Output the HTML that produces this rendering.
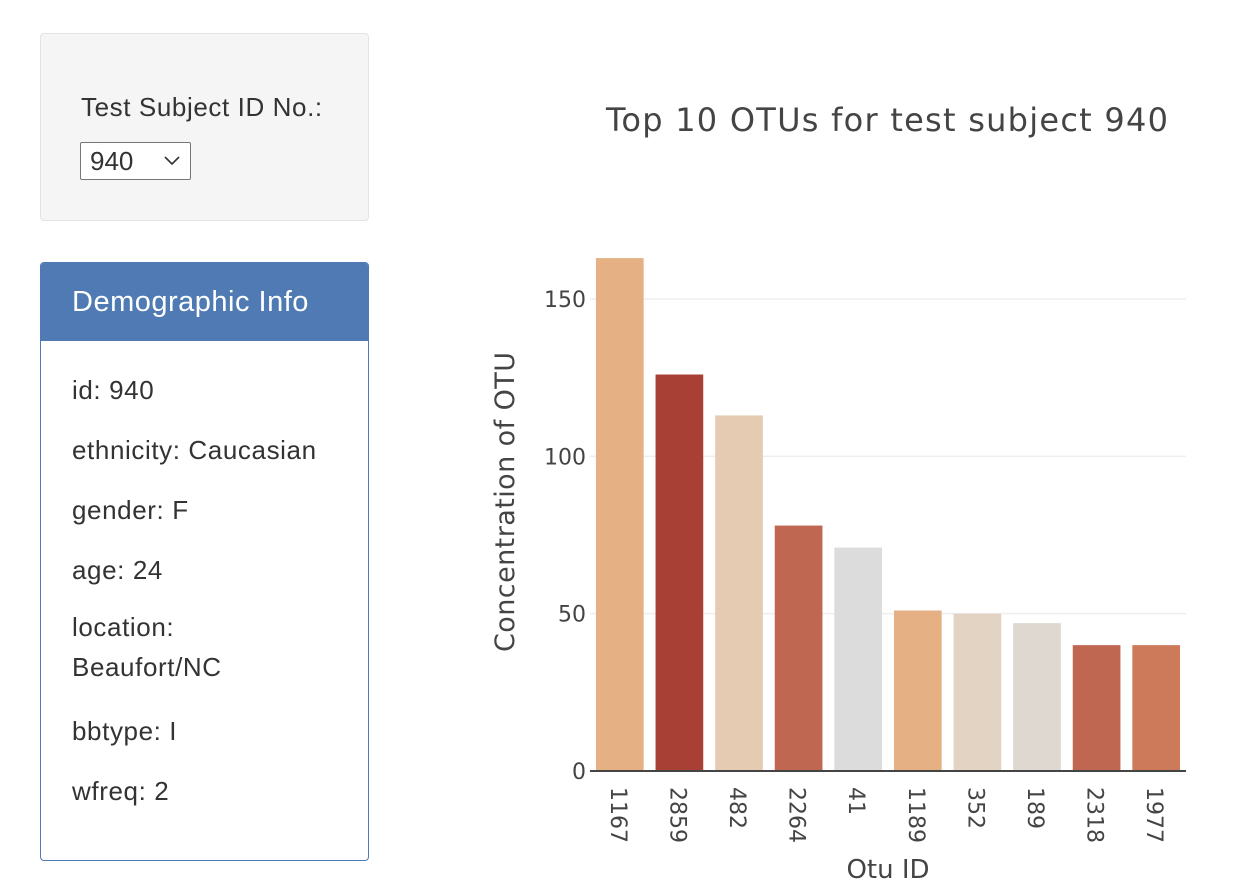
<!DOCTYPE html>
<html><head><meta charset="utf-8"><style>
body{margin:0;width:1252px;height:895px;background:#fff;font-family:"Liberation Sans",Helvetica,Arial,sans-serif;color:#333;position:relative;overflow:hidden}
.well{position:absolute;left:40px;top:33px;width:327px;height:186px;background:#f5f5f5;border:1px solid #e3e3e3;border-radius:4px}
.well .lbl{position:absolute;left:40px;top:58px;font-size:26px;letter-spacing:0.6px;color:#333}
.sel{position:absolute;left:39px;top:108px;width:111px;height:38px;border:1px solid #767676;background:#fff;border-radius:2px;font-size:26px;box-sizing:border-box;padding-left:9px;line-height:36px}
.panel{position:absolute;left:40px;top:262px;width:327px;height:597px;border:1px solid #4f7ab3;border-radius:4px;overflow:hidden}
.ph{height:78px;background:#4f7ab3;color:#fff;font-size:29px;letter-spacing:0.5px;line-height:78px;padding-left:31px}
.pb p{margin:0;position:absolute;left:31px;font-size:26px;letter-spacing:0.6px;color:#333}
</style></head><body>
<div class="well">
<div class="lbl">Test Subject ID No.:</div>
<div class="sel">940<svg style="position:absolute;right:10px;top:13px" width="16" height="10"><polyline points="1,1 8,8 15,1" fill="none" stroke="#333" stroke-width="1.6"/></svg></div>
</div>
<div class="panel">
<div class="ph">Demographic Info</div>
<div class="pb">
<p style="top:112px">id: 940</p>
<p style="top:172px">ethnicity: Caucasian</p>
<p style="top:232px">gender: F</p>
<p style="top:292px">age: 24</p>
<p style="top:352px;line-height:40px;margin-top:-8px">location:<br>Beaufort/NC</p>
<p style="top:453px">bbtype: I</p>
<p style="top:513px">wfreq: 2</p>
</div></div>
<svg id="chart" width="1252" height="895" style="position:absolute;left:0;top:0"></svg>
<script>
const categories=["1167","2859","482","2264","41","1189","352","189","2318","1977"];
const values=[163,126,113,78,71,51,50,47,40,40];
const colors=["#e5b083","#a84036","#e5cbb1","#bf6750","#dcdcdc","#e5b083","#e2d3c2","#dfd8d1","#bf6750","#cc7a5a"];
const yTicks=[0,50,100,150];
const NS="http://www.w3.org/2000/svg";
const svg=document.getElementById('chart');
const x0=590,x1=1186,y0=771,yPer=472/150;
const slot=(x1-x0)/categories.length;
const y=v=>y0-v*yPer;
const xc=i=>x0+slot*(i+0.5);
function mk(t,a){const e=document.createElementNS(NS,t);for(const k in a)e.setAttribute(k,a[k]);svg.appendChild(e);return e;}
const F='"DejaVu Sans","Liberation Sans",sans-serif';
yTicks.forEach(t=>{
 if(t>0){const g=mk('line',{x1:x0,x2:x1,y1:y(t),y2:y(t),stroke:'#eee','stroke-width':1.5});
 
 }
 const l=mk('text',{x:x0-4,y:y(t)+8,'text-anchor':'end','font-size':22,fill:'#444','font-family':F});
 l.textContent=t;
 
 
});
values.forEach((v,i)=>{
 const b=mk('rect',{x:xc(i)-slot*0.4,y:y(v),width:slot*0.8,height:v*yPer,fill:colors[i]});
 
 
 const cx=xc(i);
 const t=mk('text',{x:0,y:0,transform:`translate(${cx-9},787) rotate(90)`,'font-size':22,fill:'#444','font-family':F});
 t.textContent=categories[i];
 
 
});
const z=mk('line',{x1:x0,x2:x1,y1:y0,y2:y0,stroke:'#444','stroke-width':2});


const ti=mk('text',{x:887,y:131,'text-anchor':'middle','font-size':32,fill:'#444','font-family':F,textLength:562});
ti.textContent='Top 10 OTUs for test subject 940';


const yt=mk('text',{x:0,y:0,transform:'translate(514,502) rotate(-90)','text-anchor':'middle','font-size':27,fill:'#444','font-family':F,textLength:300});
yt.textContent='Concentration of OTU';


const xt=mk('text',{x:888,y:878,'text-anchor':'middle','font-size':26,fill:'#444','font-family':F});
xt.textContent='Otu ID';


</script>
</body></html>
